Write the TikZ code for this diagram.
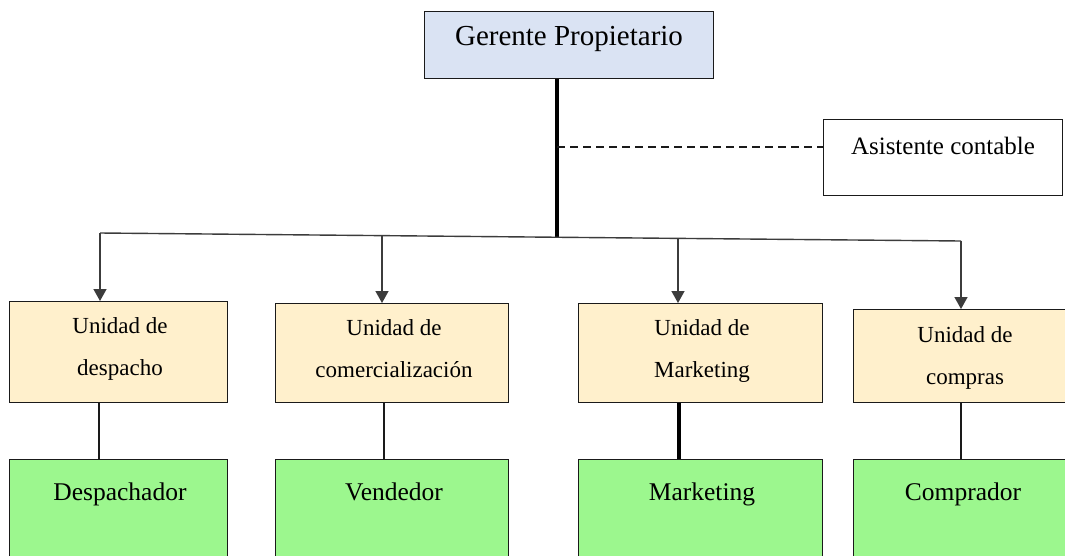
\documentclass[tikz,border=0pt]{standalone}
\usepackage{fontspec}
\setmainfont{Liberation Serif}
\usetikzlibrary{arrows.meta}

\definecolor{bossfill}{HTML}{DAE3F3}
\definecolor{unitfill}{HTML}{FFF0CC}
\definecolor{staffill}{HTML}{9CF78E}
\definecolor{edge}{HTML}{1A1A1A}

\begin{document}
\begin{tikzpicture}[x=1pt,y=-1pt,
  boxbase/.style={draw=edge, line width=1.4pt, rectangle, inner sep=0pt, anchor=north west},
  bossbox/.style={boxbase, fill=bossfill},
  helperbox/.style={boxbase, fill=white},
  unitbox/.style={boxbase, fill=unitfill},
  staffbox/.style={boxbase, fill=staffill},
  bosstext/.style={font=\fontsize{29}{32}\selectfont, inner sep=0pt},
  helpertext/.style={font=\fontsize{25}{28}\selectfont, inner sep=0pt},
  unittext/.style={font=\fontsize{23}{26}\selectfont, inner sep=0pt, anchor=base},
  stafftext/.style={font=\fontsize{25.5}{28}\selectfont, inner sep=0pt, anchor=base},
  trunk/.style={draw=black, line width=3.8pt},
  branch/.style={draw=edge!85, line width=1.4pt},
  feed/.style={branch, -{Triangle[width=13pt,length=12pt]}},
  link/.style={draw=edge, line width=1.4pt},
  boldlink/.style={draw=black, line width=3.4pt},
  advisory/.style={draw=edge, line width=1.3pt, dash pattern=on 8pt off 5pt}
]
\clip (0,0) rectangle (1065,555);
\fill[white] (0,0) rectangle (1065,555);

% owner and accounting assistant
\node[bossbox, minimum width=289pt, minimum height=67pt] (boss) at (424,11) {};
\node[bosstext] (bossT) at (569,39) {Gerente Propietario};
\node[helperbox, minimum width=239pt, minimum height=76pt] (acct) at (823,119) {};
\node[helpertext] (acctT) at (943,146) {Asistente contable};

% unit boxes
\node[unitbox, minimum width=218pt, minimum height=101pt] (u1) at (9,301) {};
\node[unitbox, minimum width=233pt, minimum height=99pt] (u2) at (275,303) {};
\node[unitbox, minimum width=244pt, minimum height=99pt] (u3) at (578,303) {};
\node[unitbox, minimum width=215pt, minimum height=93pt] (u4) at (853,309) {};

\node[unittext] (u1a) at (120,333) {Unidad de};
\node[unittext] (u1b) at (120,375) {despacho};
\node[unittext] (u2a) at (394,335) {Unidad de};
\node[unittext] (u2b) at (394,377) {comercialización};
\node[unittext] (u3a) at (702,335) {Unidad de};
\node[unittext] (u3b) at (702,377) {Marketing};
\node[unittext] (u4a) at (965,342) {Unidad de};
\node[unittext] (u4b) at (965,384) {compras};

% staff boxes
\node[staffbox, minimum width=218pt, minimum height=120pt] (s1) at (9,459) {};
\node[staffbox, minimum width=233pt, minimum height=120pt] (s2) at (275,459) {};
\node[staffbox, minimum width=244pt, minimum height=120pt] (s3) at (578,459) {};
\node[staffbox, minimum width=215pt, minimum height=120pt] (s4) at (853,459) {};

\node[stafftext] (s1T) at (120,500) {Despachador};
\node[stafftext] (s2T) at (394,500) {Vendedor};
\node[stafftext] (s3T) at (702,500) {Marketing};
\node[stafftext] (s4T) at (963,500) {Comprador};

% distribution bar (slightly tilted)
\coordinate (barL) at (100,233);
\coordinate (barR) at (961,241);
\coordinate (barM) at (557,237.2);
\coordinate (bar2) at (382,235.6);
\coordinate (bar3) at (678,238.4);
\coordinate (dash) at (557,147);

\draw[trunk] (boss.south -| barM) -- (barM);
\draw[advisory] (dash) -- (dash -| acct.west);
\draw[branch] (barL) -- (barR);

\draw[feed] (barL) -- (barL |- u1.north);
\draw[feed] (bar2) -- (bar2 |- u2.north);
\draw[feed] (bar3) -- (bar3 |- u3.north);
\draw[feed] (barR) -- (barR |- u4.north);

% unit to staff
\draw[link] (u1.south -| 99,0) -- (s1.north -| 99,0);
\draw[link] (u2.south -| 384,0) -- (s2.north -| 384,0);
\draw[boldlink] (u3.south -| 679,0) -- (s3.north -| 679,0);
\draw[link] (u4.south -| 961,0) -- (s4.north -| 961,0);
\end{tikzpicture}
\end{document}
